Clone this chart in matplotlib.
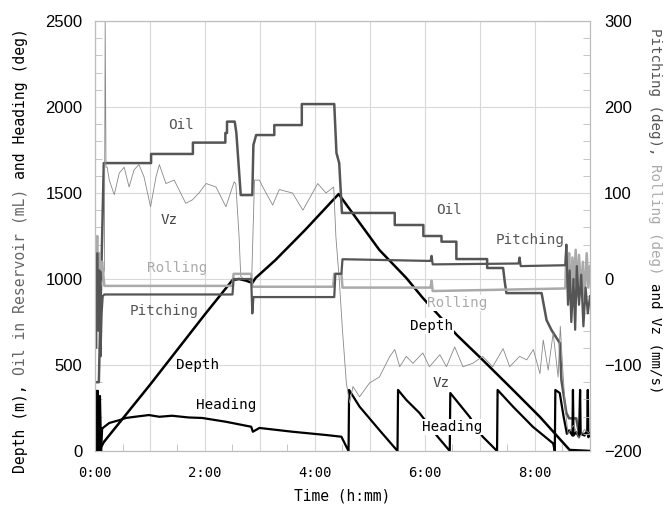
import matplotlib
matplotlib.use("Agg")
import matplotlib.pyplot as plt
import numpy as np

# time in hours
depth_t = [0.0, 0.07, 0.16, 1.0, 2.0, 2.50, 2.62, 2.75, 2.86, 2.92, 3.28, 3.82, 4.43,
           5.17, 5.66, 5.96, 6.58, 7.05, 7.60, 8.09, 8.63, 9.0]
depth_v = [0, 0, 52, 385, 795, 994, 1000, 990, 977, 1006, 1110, 1285, 1494,
           1169, 1006, 890, 674, 529, 355, 198, 6, 0]

oil_t = [0.00, 0.07, 0.16, 1.02, 1.02, 1.78, 1.78, 2.37, 2.37, 2.40, 2.40, 2.54, 2.57, 2.65,
         2.86, 2.88, 2.93, 3.26, 3.26, 3.76, 3.76, 4.35, 4.39, 4.44, 4.49, 5.45, 5.45,
         5.97, 5.97, 6.30, 6.30, 6.57, 6.57, 7.13, 7.13, 7.42, 7.45, 7.48, 8.12, 8.21,
         8.30, 8.45, 8.48, 8.57, 8.62, 8.75, 8.80, 9.0]
oil_v = [400, 400, 1674, 1674, 1727, 1727, 1793, 1793, 1849, 1849, 1915, 1915, 1850, 1488,
         1488, 1779, 1837, 1837, 1895, 1895, 2017, 2017, 1733, 1674, 1384, 1384, 1314,
         1314, 1250, 1250, 1217, 1217, 1116, 1116, 1064, 1064, 984, 918, 918, 761,
         703, 628, 413, 221, 190, 190, 100, 100]

heading_t = [0.0, 0.02, 0.03, 0.05, 0.06, 0.09, 0.11, 0.13, 0.17, 0.26, 0.45, 0.56, 0.75,
             0.98, 1.17, 1.40, 1.70, 1.95, 2.38, 2.84, 2.87, 2.99, 3.59, 4.20, 4.48, 4.57,
             4.61, 4.62, 4.81, 5.17, 5.50, 5.51, 5.66, 5.90, 6.23, 6.45, 6.46, 6.81, 7.05,
             7.31, 7.32, 7.60, 7.96, 8.33, 8.36, 8.37, 8.45, 8.52, 8.58, 8.62, 8.68, 8.69,
             8.70, 8.75, 8.80, 8.82, 8.83, 8.90, 8.95, 8.96, 8.97, 9.0]
heading_v = [200, 350, 10, 350, 0, 320, 0, 130, 141, 163, 180, 192, 200,
             209, 199, 205, 195, 192, 170, 141, 112, 134, 112, 93, 83, 25,
             0, 355, 258, 122, 0, 355, 297, 221, 83, 0, 337, 199, 83,
             0, 355, 258, 141, 44, 0, 355, 337, 200, 100, 120, 90, 355,
             90, 110, 80, 355, 100, 90, 120, 355, 80, 100]

pitch_t = [0.0, 0.02, 0.04, 0.06, 0.08, 0.10, 0.12, 0.14, 0.17, 2.50, 2.52, 2.84, 2.86,
           2.88, 4.35, 4.37, 4.48, 4.50, 6.10, 6.12, 6.14, 7.70, 7.72, 7.74, 8.55, 8.57,
           8.60, 8.63, 8.66, 8.70, 8.73, 8.76, 8.80, 8.84, 8.88, 8.92, 8.96, 9.0]
pitch_v = [20, -80, 30, -60, 10, -90, -40, -20, -18, -18, 0, 0, -40,
           -21, -21, 6, 6, 23, 21, 27, 17, 18, 25, 15, 16, 40,
           -30, 10, -50, 0, -59, 15, -30, 5, -55, -10, -40, -20]

roll_t = [0.0, 0.02, 0.04, 0.06, 0.08, 0.10, 0.13, 0.17, 2.50, 2.52, 2.84, 2.86, 4.33,
          4.35, 4.48, 4.50, 6.10, 6.12, 6.14, 8.55, 8.57, 8.60, 8.62, 8.65, 8.68, 8.71,
          8.74, 8.77, 8.80, 8.84, 8.87, 8.90, 8.94, 8.97, 9.0]
roll_v = [40, 20, 50, 0, 30, 10, 20, -8, -8, 6, 6, -9, -9,
          6, 6, -10, -10, -2, -14, -11, 34, -10, 30, -24, 25, -5,
          34, -20, 28, -15, 20, -24, 30, -10, 15]

vz_t = [0.0, 0.05, 0.10, 0.17, 0.185, 0.20, 0.22, 0.26, 0.35, 0.44, 0.53, 0.62, 0.71, 0.80,
        0.89, 1.01, 1.11, 1.17, 1.29, 1.44, 1.65, 1.77, 1.89, 2.02, 2.20, 2.38, 2.53,
        2.56, 2.62, 2.65, 2.70, 2.84, 2.85, 2.90, 2.99, 3.05, 3.23, 3.35, 3.59, 3.78,
        4.05, 4.20, 4.34, 4.38, 4.44, 4.50, 4.57, 4.63, 4.69, 4.81, 4.99, 5.17, 5.36,
        5.45, 5.54, 5.66, 5.78, 5.96, 6.08, 6.27, 6.39, 6.54, 6.69, 6.87, 7.05, 7.23,
        7.42, 7.54, 7.72, 7.85, 7.97, 8.09, 8.15, 8.24, 8.33, 8.42, 8.46, 8.50, 8.55,
        8.60, 8.70, 8.80, 8.90, 9.0]
vz_v = [0, 20, -10, 10, 300, 130, 130, 115, 98, 123, 130, 107, 127, 133,
        119, 84, 119, 133, 111, 115, 88, 92, 100, 111, 107, 84, 113,
        111, 49, 3, 0, 0, 3, 115, 115, 107, 86, 104, 100, 80,
        111, 100, 107, 49, 0, -60, -121, -144, -125, -137, -121, -114, -90,
        -82, -102, -90, -98, -86, -102, -88, -102, -79, -102, -98, -90, -102,
        -81, -102, -90, -94, -82, -110, -71, -106, -63, -114, -55, -100, -150,
        -180, -170, -185, -175, -180]

hour_ticks = list(range(0, 10))
hour_labels = ["0:00", "", "2:00", "", "4:00", "", "6:00", "", "8:00", ""]

# labels inside the plot: text, time, left-axis value, colour, white box
notes = [
    ("Oil", 1.56, 1895, "#555555", False),
    ("Vz", 1.35, 1342, "#444444", False),
    ("Rolling", 1.49, 1064, "#aaaaaa", False),
    ("Pitching", 1.26, 814, "#555555", False),
    ("Depth", 1.86, 500, "black", False),
    ("Heading", 2.39, 267, "black", False),
    ("Oil", 6.43, 1400, "#555555", False),
    ("Pitching", 7.92, 1227, "#555555", False),
    ("Rolling", 6.59, 860, "#aaaaaa", True),
    ("Depth", 6.12, 727, "black", True),
    ("Vz", 6.30, 395, "#444444", False),
    ("Heading", 6.49, 140, "black", True),
]

W, H = 666, 511
mono = "DejaVu Sans Mono"
grid_c = "#d9d9d9"
spine_c = "#bdbdbd"

fig = plt.figure(figsize=(W / 100, H / 100), dpi=100)
ax = fig.add_axes([95 / W, 1 - 451 / H, (590 - 95) / W, (451 - 21) / H])
ax2 = ax.twinx()

ax.plot(depth_t, depth_v, color="black", lw=1.8, zorder=3)
ax.plot(oil_t, oil_v, color="#555555", lw=1.8, zorder=3)
ax.plot(heading_t, heading_v, color="black", lw=1.6, zorder=3)
ax2.plot(vz_t, vz_v, color="#888888", lw=0.6)
ax2.plot(roll_t, roll_v, color="#aaaaaa", lw=1.8)
ax2.plot(pitch_t, pitch_v, color="#555555", lw=1.6)

ax.set_xlim(0, 9)
ax.set_ylim(0, 2500)
ax2.set_ylim(-200, 300)

ax.set_xticks(hour_ticks)
ax.set_xticklabels(hour_labels, fontfamily=mono, fontsize=10)
ax.set_xticks(np.arange(0, 9.01, 0.5), minor=True)
ax.set_yticks(np.arange(0, 2501, 500))
ax.set_yticks(np.arange(0, 2501, 100), minor=True)
ax2.set_yticks(np.arange(-200, 301, 100))
ax2.set_yticks(np.arange(-200, 301, 20), minor=True)

for a in (ax, ax2):
    for s in a.spines.values():
        s.set_color(spine_c)
        s.set_linewidth(0.8)
    a.tick_params(which="both", direction="in", color=spine_c)
    a.tick_params(which="major", length=0)
    a.tick_params(which="minor", length=5)
    for lab in a.get_yticklabels():
        lab.set_fontfamily("Liberation Sans")
        lab.set_fontsize(12)
ax.tick_params(axis="x", which="minor", length=5)
ax.tick_params(axis="x", which="major", pad=11)
ax.tick_params(axis="y", which="major", pad=9)
ax2.tick_params(axis="y", which="major", pad=10)
ax.grid(True, which="major", color=grid_c, lw=0.8)
ax.set_axisbelow(True)

for txt, t, v, c, boxed in notes:
    kw = {}
    if boxed:
        kw["bbox"] = dict(facecolor="white", edgecolor="none", pad=0.5)
    ax2.text(t, v, txt, transform=ax.transData, ha="center", va="center",
             color=c, fontfamily=mono, fontsize=10.3, zorder=10, **kw)

fig.text(342 / W, 1 - 496 / H, "Time (h:mm)", ha="center", va="center",
         fontfamily=mono, fontsize=10.5)


def stacked(x_px, y0_px, pieces, rot, cw, fs):
    # pieces of one monospace label, each with its own colour
    for txt, idx, c in pieces:
        y = y0_px - idx * cw if rot == 90 else y0_px + idx * cw
        fig.text(x_px / W, 1 - y / H, txt, rotation=rot, rotation_mode="anchor",
                 ha="left", va="center", color=c, fontfamily=mono, fontsize=fs)


stacked(20, 473, [("Depth (m),", 0, "black"),
                  ("Oil in Reservoir (mL)", 11, "#666666"),
                  ("and Heading (deg)", 33, "black")], 90, 8.92, 10.65)
stacked(655, 28, [("Pitching (deg),", 0, "#555555"),
                  ("Rolling (deg)", 16, "#aaaaaa"),
                  ("and Vz (mm/s)", 30, "black")], -90, 8.5, 10.2)

fig.savefig("out.png", dpi=100)
